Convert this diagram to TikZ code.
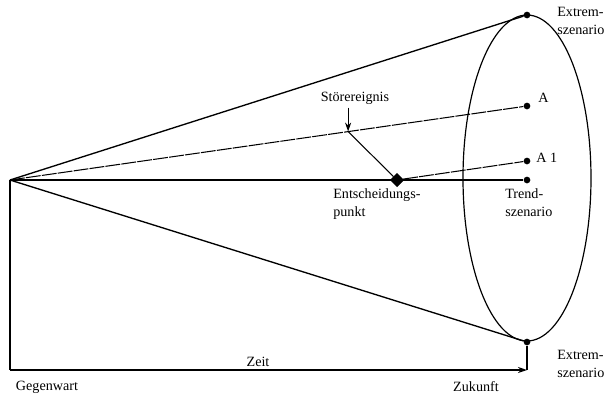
\documentclass[tikz,border=0pt]{standalone}
\usepackage{fontspec}
\setmainfont{Liberation Serif}
\usetikzlibrary{shapes,calc,arrows.meta}

\tikzset{
  dot/.style={circle,fill,inner sep=0pt,minimum size=4.5pt},
  lbl/.style={align=left,anchor=west,inner sep=0pt,font=\fontsize{9.5}{12}\selectfont},
  thin line/.style={line width=0.7pt,dash pattern=on 10pt off 0.8pt},
  cone/.style={line width=0.9pt}
}

\begin{document}
\begin{tikzpicture}[x=0.672pt,y=-0.672pt]
  \useasboundingbox (0,0) rectangle (610,398);

  \coordinate (apex) at (10,180);
  \coordinate (origin) at (10,370);
  \coordinate (future) at (527,370);

  \node[dot] (ext1) at (527,15) {};
  \node[dot] (A) at (527,106) {};
  \node[dot] (A1) at (527,161) {};
  \node[dot] (trend) at (527,180) {};
  \node[dot] (ext2) at (527,342) {};
  \node[draw,diamond,fill,inner sep=0pt,minimum size=9pt] (ent) at (397,180) {};
  \coordinate (stoer) at ($(apex)!0.654!(A)$);
  \coordinate (stoertop) at ($(stoer)+(0,-24)$);

  % scenario cone
  \draw[line width=0.8pt] (527,178) ellipse [x radius=64, y radius=163];
  \path[cone] (apex) edge (ext1) (apex) edge (ext2);
  \path[line width=1.4pt] (apex) edge (trend);
  \path[thin line] (apex) edge (A) (ent) edge (A1);
  \path[line width=0.7pt] (stoer) edge (ent);
  \path[-{Stealth[length=6pt,width=4pt]},line width=0.8pt] (stoertop) edge (stoer);

  % time axis
  \draw[line width=1.2pt] (apex) -- (origin);
  \draw[line width=1.2pt,-{Stealth[length=6pt,width=4pt]}] (origin) -- (future);
  \draw[line width=1.2pt] (ext2) -- (future);

  \node[lbl] (lext1) at (557,21) {Extrem-\\szenario};
  \node[lbl] (lext2) at (557,364) {Extrem-\\szenario};
  \node[lbl] (ltrend) at (505,203) {Trend-\\szenario};
  \node[lbl] (lent) at (333,204) {Entscheidungs-\\punkt};
  \node[lbl] (lA) at (538,98) {A};
  \node[lbl] (lA1) at (536,158) {A 1};
  \node[lbl,anchor=center] (lstoer) at (355,98) {Störereignis};
  \node[lbl,anchor=center] (lzeit) at (258,362) {Zeit};
  \node[lbl,anchor=center] (lgeg) at (47,387) {Gegenwart};
  \node[lbl,anchor=center] (lzuk) at (476,387) {Zukunft};
\end{tikzpicture}
\end{document}
